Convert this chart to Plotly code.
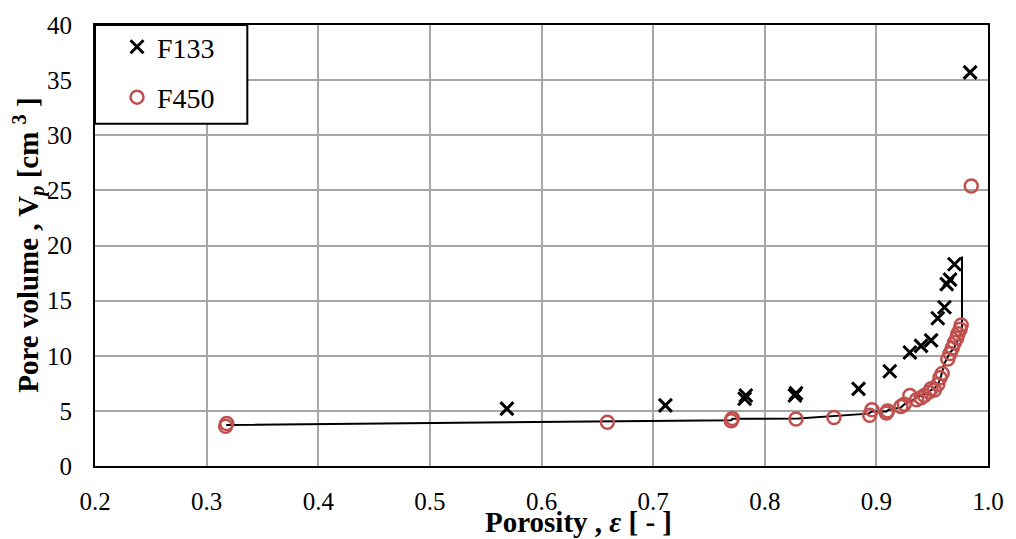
import plotly.graph_objects as go

# ---- data ----
f133_x = [0.569, 0.711, 0.782, 0.783, 0.827, 0.828, 0.884, 0.912, 0.930, 0.940,
          0.949, 0.955, 0.961, 0.963, 0.966, 0.970, 0.984]
f133_y = [5.2, 5.5, 6.1, 6.4, 6.4, 6.6, 7.0, 8.6, 10.3, 10.9,
          11.4, 13.4, 14.4, 16.5, 16.9, 18.3, 35.7]

f450_x = [0.317, 0.318, 0.659, 0.770, 0.771, 0.828, 0.862, 0.894, 0.896, 0.909,
          0.910, 0.922, 0.925, 0.930, 0.936, 0.940, 0.943, 0.947, 0.949, 0.952,
          0.955, 0.957, 0.959, 0.964, 0.966, 0.968, 0.970, 0.972, 0.973, 0.975,
          0.976, 0.985]
f450_y = [3.6, 3.85, 3.97, 4.1, 4.3, 4.27, 4.4, 4.6, 5.1, 4.8,
          5.0, 5.4, 5.6, 6.4, 6.0, 6.2, 6.4, 6.7, 7.0, 6.9,
          7.4, 8.0, 8.4, 9.7, 10.2, 10.7, 11.2, 11.6, 12.0, 12.4,
          12.8, 25.4]

fit_x = [0.3175, 0.770, 0.771, 0.830, 0.893, 0.896, 0.909, 0.911, 0.922, 0.925,
         0.933, 0.938, 0.945, 0.951, 0.955, 0.958, 0.961, 0.963, 0.966, 0.969,
         0.972, 0.975, 0.9767, 0.9767]
fit_y = [3.72, 4.15, 4.28, 4.30, 4.75, 4.95, 4.95, 5.10, 5.30, 5.60,
         6.00, 6.30, 6.60, 7.00, 7.30, 8.20, 9.30, 9.70, 10.30, 10.60,
         11.20, 11.80, 12.40, 19.0]

x_ticks = [0.2, 0.3, 0.4, 0.5, 0.6, 0.7, 0.8, 0.9, 1.0]
x_ticktext = ["0.2", "0.3", "0.4", "0.5", "0.6", "0.7", "0.8", "0.9", "1.0"]
y_ticks = [0, 5, 10, 15, 20, 25, 30, 35, 40]

FONT = "Liberation Serif"
RED = "#C0504D"

# plot area in pixels: left 95, right 992, top 19, bottom 466
PW, PH = 897, 447

fig = go.Figure()
fig.add_trace(go.Scatter(
    x=fit_x, y=fit_y, mode="lines", showlegend=False,
    line=dict(color="black", width=2)))
fig.add_trace(go.Scatter(
    x=f133_x, y=f133_y, mode="markers", name="F133", legendgroup="a",
    marker=dict(symbol="x-thin-open", size=13, color="black",
                line=dict(color="black", width=3))))
fig.add_trace(go.Scatter(
    x=f450_x, y=f450_y, mode="markers", name="F450", legendgroup="b",
    marker=dict(symbol="circle-open", size=13, color=RED,
                line=dict(color=RED, width=2.5))))

fig.update_layout(
    width=1016, height=539,
    margin=dict(l=95, r=24, t=19, b=73),
    paper_bgcolor="white", plot_bgcolor="white",
    font=dict(family=FONT, size=25, color="black"),
    showlegend=True,
    legend=dict(x=0, y=1 + 3 / PH, xanchor="left", yanchor="top",
                bgcolor="rgba(0,0,0,0)", borderwidth=0,
                font=dict(family=FONT, size=28, color="black"),
                tracegroupgap=11, indentation=22),
    xaxis=dict(range=[0.2, 1.0], tickvals=x_ticks, ticktext=x_ticktext,
               showgrid=True, gridcolor="#A6A6A6", gridwidth=2,
               showline=True, linecolor="black", linewidth=2, mirror=True,
               ticks="outside", ticklen=12, tickcolor="rgba(0,0,0,0)",
               zeroline=False, tickfont=dict(family=FONT, size=25)),
    yaxis=dict(range=[0, 40], tickvals=y_ticks,
               showgrid=True, gridcolor="#A6A6A6", gridwidth=2,
               showline=True, linecolor="black", linewidth=2, mirror=True,
               ticks="outside", ticklen=16, tickcolor="rgba(0,0,0,0)",
               zeroline=False, tickfont=dict(family=FONT, size=25)),
    shapes=[
        dict(type="rect", xref="paper", yref="paper", layer="above",
             x0=0, x1=(248 - 95) / PW, y0=1 - (119 - 19) / PH, y1=1,
             fillcolor="white", line=dict(color="black", width=2)),
    ],
    annotations=[
        dict(text="<b>Porosity , <i>ε</i> [ - ]</b>", xref="paper", yref="paper",
             x=(581 - 95) / PW, y=-(523 - 466) / PH, xanchor="center", yanchor="middle",
             showarrow=False, font=dict(family=FONT, size=29, color="black")),
        dict(text="<b>Pore volume , V<sub><i>p</i></sub> [cm <sup>3</sup> ]</b>",
             xref="paper", yref="paper", textangle=-90,
             x=-(95 - 28) / PW, y=0.5, xanchor="center", yanchor="middle",
             showarrow=False, font=dict(family=FONT, size=29, color="black")),
    ],
)

fig.write_html("out.html")
